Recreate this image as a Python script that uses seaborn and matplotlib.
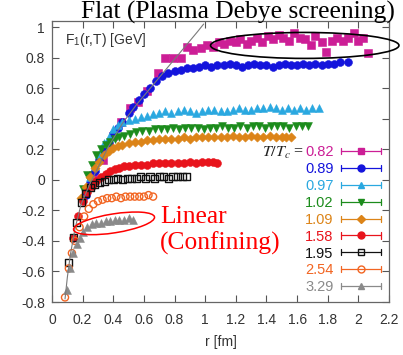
import numpy as np
import pandas as pd
import seaborn as sns
import matplotlib
matplotlib.use("Agg")
import matplotlib.pyplot as plt
from matplotlib.patches import Ellipse
from matplotlib.lines import Line2D
from matplotlib.legend_handler import HandlerLine2D

# ---------------- data ----------------
labels = ["0.82", "0.89", "0.97", "1.02", "1.09", "1.58", "1.95", "2.54", "3.29"]
colors = ["#cc1e96", "#1414dc", "#2aa8e0", "#1c8c1c", "#dc8418", "#e8141c", "#111111", "#f26522", "#8a8a8a"]
markers = ["s", "o", "^", "v", "D", "o", "s", "o", "^"]
filled = [True, True, True, True, True, True, False, False, True]

r_082 = [0.27, 0.33, 0.40, 0.45, 0.51, 0.56, 0.62, 0.69, 0.74, 0.79, 0.84, 0.88, 0.92, 0.97, 1.01,
         1.05, 1.09, 1.12, 1.16, 1.20, 1.23, 1.27, 1.30, 1.34, 1.37, 1.41, 1.44, 1.48, 1.51, 1.55,
         1.58, 1.62, 1.65, 1.69, 1.72, 1.76, 1.79, 1.83, 1.86, 1.90, 1.93, 1.97, 2.00, 2.03, 2.06]
F_082 = [0.03, 0.13, 0.29, 0.38, 0.47, 0.51, 0.58, 0.70, 0.80, 0.80, 0.80, 0.87, 0.85, 0.86, 0.88,
         0.87, 0.90, 0.89, 0.91, 0.90, 0.92, 0.89, 0.91, 0.93, 0.90, 0.94, 0.92, 0.95, 0.93, 0.91,
         0.96, 0.93, 0.92, 0.88, 0.94, 0.90, 0.84, 0.91, 0.93, 0.91, 0.93, 0.96, 0.91, 0.93, 0.83]

r_089 = [0.22, 0.25, 0.28, 0.31, 0.34, 0.37, 0.40, 0.43, 0.46, 0.50, 0.53, 0.57, 0.60, 0.64, 0.68,
         0.72, 0.76, 0.80, 0.84, 0.88, 0.92, 0.96, 1.00, 1.04, 1.08, 1.12, 1.16, 1.20, 1.24, 1.28,
         1.32, 1.36, 1.40, 1.44, 1.48, 1.52, 1.56, 1.60, 1.64, 1.68, 1.72, 1.76, 1.80, 1.84, 1.88, 1.93]
F_089 = [-0.10, -0.02, 0.06, 0.13, 0.19, 0.24, 0.30, 0.34, 0.38, 0.44, 0.48, 0.52, 0.56, 0.60, 0.65,
         0.68, 0.70, 0.71, 0.72, 0.73, 0.73, 0.74, 0.75, 0.74, 0.75, 0.75, 0.76, 0.75, 0.74, 0.75,
         0.76, 0.75, 0.75, 0.74, 0.75, 0.76, 0.75, 0.75, 0.76, 0.75, 0.76, 0.75, 0.76, 0.76, 0.77, 0.77]

r_097 = [0.25, 0.28, 0.31, 0.34, 0.37, 0.40, 0.43, 0.46, 0.50, 0.54, 0.58, 0.62, 0.66, 0.70, 0.74,
         0.78, 0.82, 0.86, 0.90, 0.94, 0.98, 1.02, 1.06, 1.10, 1.14, 1.18, 1.22, 1.26, 1.30, 1.34,
         1.38, 1.42, 1.46, 1.50, 1.54, 1.58, 1.62, 1.66, 1.70, 1.74]
F_097 = [0.02, 0.09, 0.17, 0.24, 0.28, 0.33, 0.36, 0.38, 0.39, 0.40, 0.41, 0.42, 0.43, 0.44, 0.45,
         0.44, 0.45, 0.46, 0.45, 0.44, 0.45, 0.46, 0.46, 0.45, 0.45, 0.46, 0.47, 0.46, 0.46, 0.47,
         0.47, 0.48, 0.47, 0.46, 0.47, 0.46, 0.47, 0.46, 0.47, 0.47]

r_102 = [0.20, 0.23, 0.26, 0.29, 0.32, 0.35, 0.38, 0.41, 0.44, 0.47, 0.51, 0.55, 0.59, 0.63, 0.67,
         0.71, 0.75, 0.79, 0.83, 0.87, 0.91, 0.95, 0.99, 1.03, 1.07, 1.11, 1.15, 1.19, 1.23, 1.27,
         1.31, 1.35, 1.39, 1.43, 1.47, 1.51, 1.55, 1.59, 1.63, 1.67]
F_102 = [-0.06, 0.03, 0.10, 0.16, 0.20, 0.23, 0.25, 0.27, 0.28, 0.29, 0.30, 0.31, 0.32, 0.32, 0.33,
         0.33, 0.33, 0.34, 0.33, 0.34, 0.34, 0.34, 0.33, 0.34, 0.34, 0.35, 0.34, 0.34, 0.35, 0.34,
         0.35, 0.35, 0.34, 0.35, 0.35, 0.35, 0.34, 0.35, 0.35, 0.35]

r_109 = [0.19, 0.22, 0.25, 0.28, 0.31, 0.34, 0.37, 0.40, 0.43, 0.46, 0.50, 0.54, 0.58, 0.62, 0.66,
         0.70, 0.74, 0.78, 0.82, 0.86, 0.90, 0.94, 0.98, 1.02, 1.06, 1.10, 1.14, 1.18, 1.22, 1.26,
         1.30, 1.34, 1.38, 1.42, 1.46, 1.50, 1.53, 1.56]
F_109 = [-0.12, -0.05, 0.02, 0.08, 0.12, 0.16, 0.19, 0.21, 0.22, 0.23, 0.24, 0.25, 0.25, 0.26, 0.26,
         0.27, 0.27, 0.27, 0.27, 0.28, 0.27, 0.28, 0.28, 0.28, 0.28, 0.28, 0.28, 0.29, 0.28, 0.28,
         0.29, 0.28, 0.28, 0.29, 0.28, 0.28, 0.28, 0.28]

r_158 = [0.14, 0.17, 0.20, 0.23, 0.26, 0.29, 0.32, 0.35, 0.38, 0.41, 0.44, 0.47, 0.50, 0.54, 0.58,
         0.62, 0.66, 0.70, 0.74, 0.78, 0.82, 0.86, 0.90, 0.94, 0.98, 1.02, 1.05, 1.08]
F_158 = [-0.38, -0.24, -0.14, -0.08, -0.04, -0.01, 0.02, 0.04, 0.06, 0.07, 0.08, 0.09, 0.09, 0.10, 0.10,
         0.10, 0.11, 0.11, 0.11, 0.11, 0.11, 0.11, 0.12, 0.11, 0.12, 0.12, 0.12, 0.11]

r_195 = [0.11, 0.14, 0.16, 0.19, 0.22, 0.25, 0.28, 0.31, 0.34, 0.37, 0.40, 0.43, 0.46, 0.49,
         0.52, 0.55, 0.58, 0.61, 0.64, 0.67, 0.70, 0.73, 0.76, 0.79, 0.82, 0.85, 0.88]
F_195 = [-0.54, -0.38, -0.28, -0.15, -0.09, -0.05, -0.03, -0.02, -0.01, 0.00, 0.00, 0.01, 0.00, 0.01,
         0.01, 0.01, 0.02, 0.01, 0.02, 0.01, 0.02, 0.02, 0.01, 0.02, 0.02, 0.02, 0.02]

r_254 = [0.085, 0.11, 0.13, 0.15, 0.18, 0.21, 0.24, 0.27, 0.30, 0.33, 0.36, 0.39, 0.42, 0.45,
         0.48, 0.51, 0.54, 0.57, 0.60, 0.63, 0.66]
F_254 = [-0.77, -0.58, -0.48, -0.40, -0.31, -0.24, -0.19, -0.16, -0.14, -0.13, -0.12, -0.12, -0.11,
         -0.12, -0.11, -0.11, -0.11, -0.11, -0.11, -0.10, -0.11]

r_329 = [0.10, 0.12, 0.14, 0.16, 0.18, 0.20, 0.23, 0.26, 0.29, 0.32, 0.35, 0.38, 0.41, 0.44, 0.47, 0.50, 0.53]
F_329 = [-0.72, -0.58, -0.48, -0.42, -0.38, -0.34, -0.31, -0.29, -0.28, -0.28, -0.27, -0.27, -0.26,
         -0.26, -0.26, -0.25, -0.26]

# zero-temperature (Cornell-like) reference curve
r_T0 = [0.085, 0.10, 0.12, 0.15, 0.19, 0.25, 0.30, 0.37, 0.46, 0.55, 0.65, 0.75, 0.85, 0.95, 0.99]
F_T0 = [-0.78, -0.64, -0.49, -0.32, -0.16, -0.02, 0.08, 0.22, 0.37, 0.49, 0.61, 0.73, 0.85, 0.97, 1.02]

x_ticks = [0, 0.2, 0.4, 0.6, 0.8, 1, 1.2, 1.4, 1.6, 1.8, 2, 2.2]
x_ticklabels = ["0", "0.2", "0.4", "0.6", "0.8", "1", "1.2", "1.4", "1.6", "1.8", "2", "2.2"]
y_ticks = [-0.8, -0.6, -0.4, -0.2, 0, 0.2, 0.4, 0.6, 0.8, 1]
y_ticklabels = ["-0.8", "-0.6", "-0.4", "-0.2", "0", "0.2", "0.4", "0.6", "0.8", "1"]

series_r = [r_082, r_089, r_097, r_102, r_109, r_158, r_195, r_254, r_329]
series_F = [F_082, F_089, F_097, F_102, F_109, F_158, F_195, F_254, F_329]

frames = []
for lab, rr, ff in zip(labels, series_r, series_F):
    frames.append(pd.DataFrame({"r": rr, "F": ff, "T": lab}))
df = pd.concat(frames, ignore_index=True)
df_T0 = pd.DataFrame({"r": r_T0, "F": F_T0})

# ---------------- style ----------------
sns.set_style("ticks")
plt.rcParams["font.family"] = ["Liberation Sans", "DejaVu Sans"]
plt.rcParams["mathtext.fontset"] = "stix"

fig = plt.figure(figsize=(4.03, 3.55), dpi=100)
ax = fig.add_axes([52 / 403, 53 / 355, 337 / 403, 281 / 355])

for lab, col, mk, fl in zip(labels, colors, markers, filled):
    sub = df[df["T"] == lab]
    size = 22 if mk == "D" else 32
    if fl:
        sns.scatterplot(data=sub, x="r", y="F", ax=ax, marker=mk, color=col,
                        edgecolor=col, linewidth=0.4, s=size, legend=False, zorder=3)
    else:
        sns.scatterplot(data=sub, x="r", y="F", ax=ax, marker=mk, color=col,
                        facecolor="none", edgecolor=col, linewidth=1.0, s=26, legend=False, zorder=3)

sns.lineplot(data=df_T0, x="r", y="F", ax=ax, color="#7a7a7a", linewidth=0.8, sort=False, zorder=4)

ax.set_xlim(0, 2.2)
ax.set_ylim(-0.8, 1.04)
ax.set_xticks(x_ticks)
ax.set_xticklabels(x_ticklabels)
ax.set_yticks(y_ticks)
ax.set_yticklabels(y_ticklabels)
ax.tick_params(direction="in", length=5, width=0.8, color="#555555", labelsize=10,
               labelcolor="#333333", top=True, right=True)
ax.tick_params(axis="x", pad=8)
ax.tick_params(axis="y", pad=5)
for s in ax.spines.values():
    s.set_color("#666666")
    s.set_linewidth(0.9)
ax.set_xlabel("r [fm]", fontsize=10, color="#333333", labelpad=6)
ax.set_ylabel("")
ax.text(0.04, 0.965, r"F$_\mathregular{1}$(r,T) [GeV]", transform=ax.transAxes,
        fontsize=10, color="#333333", ha="left", va="top")

# legend with gnuplot-style error-bar handles
class CapHandler(HandlerLine2D):
    def create_artists(self, legend, orig_handle, xdescent, ydescent, width, height, fontsize, trans):
        arts = super().create_artists(legend, orig_handle, xdescent, ydescent, width, height, fontsize, trans)
        y = height / 2.0 - ydescent
        h = 0.3 * height
        for x in (-xdescent, width - xdescent):
            arts.append(Line2D([x, x], [y - h, y + h], color=orig_handle.get_color(),
                               lw=0.9, transform=trans))
        return arts

handles = []
for col, mk, fl in zip(colors, markers, filled):
    handles.append(Line2D([], [], color=col, lw=0.9, marker=mk, markersize=5 if mk != "D" else 4.2,
                          markerfacecolor=col if fl else "none", markeredgecolor=col))
leg = ax.legend(handles, labels, loc="upper right", bbox_to_anchor=((381 - 52) / 337, (302 - 145) / 281),
                frameon=False, markerfirst=False, fontsize=10.5, handlelength=2.75,
                handletextpad=0.5, labelspacing=0.2, borderpad=0, borderaxespad=0,
                handler_map={Line2D: CapHandler()})
for t, col in zip(leg.get_texts(), colors):
    t.set_color(col)

fig.text(304 / 403, 1 - 153 / 355, r"$T/T_c$ =", fontsize=11.5, color="#222222",
         ha="right", va="center", family="Liberation Serif")

# annotations
ax.add_patch(Ellipse((1.65, 0.88), 1.23, 0.17, fill=False, edgecolor="black", lw=1.2, clip_on=False, zorder=5))
ax.add_patch(Ellipse((0.405, -0.285), 0.535, 0.124, angle=9, fill=False, edgecolor="red", lw=1.1,
                     clip_on=False, zorder=5))
fig.text(81 / 403, 1 - 1 / 355, "Flat (Plasma Debye screening)", family="Liberation Serif",
         fontsize=18.4, color="black", ha="left", va="top")
fig.text(160 / 403, 1 - 206 / 355, "Linear\n(Confining)", family="Liberation Serif",
         fontsize=18.4, color="red", ha="left", va="top", linespacing=1.2)

fig.savefig("out.png", dpi=100)
